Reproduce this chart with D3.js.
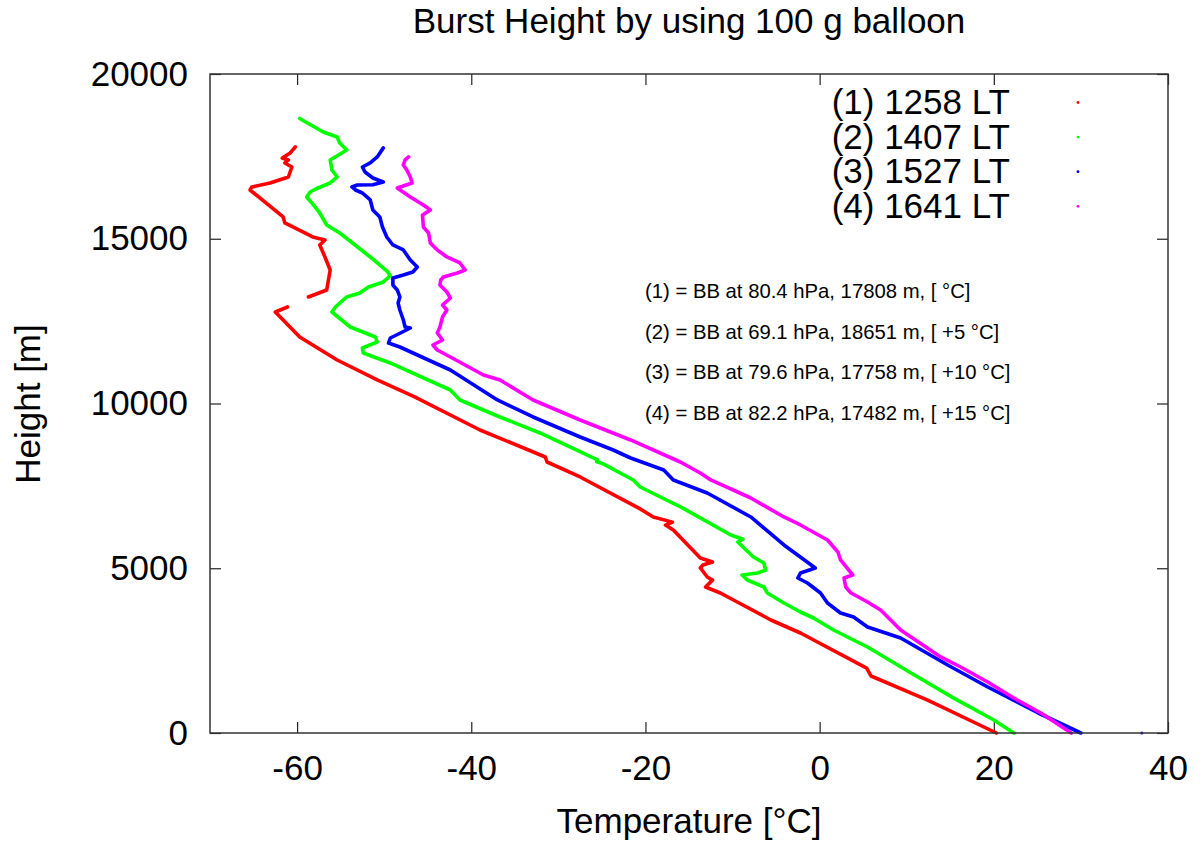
<!DOCTYPE html>
<html>
<head>
<meta charset="utf-8">
<script src="https://cdn.jsdelivr.net/npm/d3@7"></script>
<style>
  body { margin: 0; background: #fff; }
  svg { display: block; font-family: 'Liberation Sans', Arial, sans-serif; }
</style>
</head>
<body>
<div id="wrapper"></div>
<script>
// [temperature degC, height m], ground up. null = gap in the record
const sounding1 = [
  [20.3, 0], [12.4, 1000], [5.9, 1730], [5.4, 1970], [-2.2, 3035], [-5.6, 3430],
  [-11.4, 4250], [-13.1, 4430], [-12.3, 4640], [-12.9, 4735], [-13.7, 5010],
  [-13.4, 5100], [-12.3, 5190], [-13.7, 5310], [-16.8, 6160], [-17.7, 6310],
  [-16.9, 6400], [-19.1, 6555], [-20.6, 6800], [-27.5, 7770], [-31.3, 8225],
  [-31.5, 8377], [-39.0, 9196], [-46.5, 10200], [-50.8, 10714], [-55.4, 11320],
  [-59.7, 12019], [-61.6, 12535], [-62.5, 12777], [-61.1, 12929], null,
  [-58.7, 13233], [-56.6, 13445], [-56.2, 14052], [-56.8, 14447], [-57.4, 14811],
  [-56.8, 14963], [-58.2, 15054], [-61.4, 15479], [-61.6, 15661], [-65.4, 16480],
  [-65.2, 16571], [-63.1, 16693], [-61.0, 16875], [-60.6, 17178], [-61.4, 17300],
  [-61.0, 17391], [-61.7, 17452], [-60.8, 17603], [-60.2, 17790]
]
const sounding2 = [
  [22.3, 0], [20.0, 395], [15.4, 1060], [10.5, 1820], [5.5, 2610], [1.6, 3126],
  [-0.7, 3490], [-2.2, 3672], [-4.1, 3946], [-6.0, 4249], [-6.4, 4431],
  [-8.3, 4644], [-8.9, 4795], [-7.1, 4856], [-6.2, 4947], [-6.4, 5160],
  [-7.6, 5342], [-9.4, 5797], [-8.8, 5880], [-10.2, 6009], [-15.8, 6840],
  [-20.6, 7466], [-21.4, 7679], [-25.0, 8190], [-25.6, 8230], [-25.5, 8290],
  [-32.1, 9105], [-36.7, 9591], [-37.8, 9712], [-41.3, 10107], [-42.4, 10410],
  [-49.3, 11230], [-52.4, 11533], [-52.5, 11685], [-50.8, 11867], [-51.0, 12019],
  [-53.9, 12322], [-56.0, 12777], [-55.6, 12929], [-54.3, 13233], [-52.8, 13354],
  [-51.8, 13536], [-50.1, 13688], [-49.3, 13870], [-49.6, 14000], [-51.6, 14447],
  [-55.1, 15175], [-56.6, 15418], [-57.4, 15782], [-58.3, 16086], [-58.9, 16268],
  [-58.5, 16419], [-57.6, 16541], [-56.2, 16693], [-55.4, 16875], [-56.0, 17087],
  [-56.2, 17391], [-54.3, 17694], [-55.1, 17907], [-55.4, 18089], [-57.0, 18240],
  [-59.7, 18651]
]
const sounding3 = [
  [30.0, 0], [25.1, 607], [19.3, 1396], [14.7, 2064], [9.3, 2883], [5.5, 3217],
  [3.9, 3521], [2.4, 3642], [0.9, 3946], [0.1, 4249], [-1.4, 4553], [-2.5, 4704],
  [-2.2, 4856], [-0.5, 5008], [-3.0, 5493], [-4.1, 5706], [-7.9, 6556],
  [-12.9, 7284], [-16.8, 7679], [-17.9, 7982], [-21.7, 8346], [-23.7, 8589],
  [-27.5, 8984], [-32.9, 9591], [-37.0, 10107], [-42.4, 11017], [-48.2, 11715],
  [-49.5, 11836], [-49.3, 11988], [-47.9, 12170], [-47.0, 12292], [-47.6, 12322],
  [-47.8, 12535], [-48.2, 12838], [-48.4, 13050], [-48.2, 13233], [-48.5, 13445],
  [-49.0, 13597], [-49.0, 13809], [-47.8, 13900], [-46.7, 13991], [-46.2, 14143],
  [-47.0, 14356], [-47.8, 14659], [-49.0, 14811], [-49.7, 15054], [-50.2, 15357],
  [-50.5, 15661], [-51.3, 15873], [-51.6, 16177], [-52.5, 16389], [-53.3, 16480],
  [-53.7, 16571], [-53.1, 16632], [-51.3, 16640], [-50.1, 16723], [-51.3, 16845],
  [-52.2, 17026], [-52.5, 17178], [-51.6, 17300], [-50.8, 17482], [-50.1, 17758]
]
const sounding4 = [
  [28.9, 0], [25.4, 607], [22.3, 1062], [19.3, 1548], [16.2, 2003], [13.9, 2307],
  [9.3, 3126], [7.0, 3733], [5.5, 3976], [3.6, 4249], [3.0, 4431], [2.8, 4704],
  [3.8, 4795], [2.4, 5251], [2.1, 5493], [0.9, 5858], [-2.2, 6313], [-4.1, 6556],
  [-7.9, 7132], [-12.5, 7679], [-13.7, 7891], [-16.0, 8225], [-21.7, 8893],
  [-27.5, 9500], [-32.9, 10107], [-36.7, 10714], [-38.6, 10865], [-42.4, 11412],
  [-43.9, 11624], [-44.4, 11776], [-43.3, 11927], [-43.9, 12140], [-43.6, 12322],
  [-43.3, 12626], [-42.8, 12838], [-43.3, 12990], [-42.4, 13202], [-42.8, 13384],
  [-43.6, 13597], [-43.5, 13750], [-43.2, 13840], [-41.6, 13961], [-40.7, 14052],
  [-41.3, 14265], [-42.8, 14447], [-43.9, 14659], [-44.7, 14872], [-44.9, 15175],
  [-45.5, 15357], [-45.6, 15721], [-44.7, 15873], [-45.5, 16025], [-47.0, 16268],
  [-48.5, 16541], [-46.8, 16693], [-47.0, 16875], [-47.4, 17087], [-47.8, 17239],
  [-47.6, 17391], [-47.2, 17482]
]
// one stray point of sounding 3 near the ground
const strayPoints = [[37.0, 0]]

const seriesLabels = ['(1) 1258 LT', '(2) 1407 LT', '(3) 1527 LT', '(4) 1641 LT']
const seriesColors = ['#ff0000', '#00ff00', '#0000ff', '#ff00ff']
const burstNotes = [
  '(1) = BB at 80.4 hPa, 17808 m, [ °C]',
  '(2) = BB at 69.1 hPa, 18651 m, [ +5 °C]',
  '(3) = BB at 79.6 hPa, 17758 m, [ +10 °C]',
  '(4) = BB at 82.2 hPa, 17482 m, [ +15 °C]'
]
const xTicks = [-60, -40, -20, 0, 20, 40]
const yTicks = [0, 5000, 10000, 15000, 20000]

const series = [sounding1, sounding2, sounding3, sounding4]

const xAccessor = (d) => d[0]
const yAccessor = (d) => d[1]

let dimensions = {
  width: 1202,
  height: 841,
  margin: { top: 74, right: 34, bottom: 108, left: 210 },
}
dimensions.boundedWidth =
  dimensions.width - dimensions.margin.left - dimensions.margin.right
dimensions.boundedHeight =
  dimensions.height - dimensions.margin.top - dimensions.margin.bottom

const wrapper = d3
  .select('#wrapper')
  .append('svg')
  .attr('width', dimensions.width)
  .attr('height', dimensions.height)

const bounds = wrapper
  .append('g')
  .attr('transform', `translate(${dimensions.margin.left},${dimensions.margin.top})`)

const xScale = d3.scaleLinear().domain([-70, 40]).range([0, dimensions.boundedWidth])
const yScale = d3.scaleLinear().domain([0, 20000]).range([dimensions.boundedHeight, 0])

// plain integers with an ascii minus, like the original plot
const plainFormat = (d) => String(d)

// axes: ticks point inward on all four sides
const fontSize = 35
const styleAxis = (g) => {
  g.select('.domain').remove()
  g.selectAll('.tick line').attr('stroke', '#222').attr('stroke-width', 1.2)
  g.selectAll('.tick text')
    .attr('fill', '#000')
    .style('font-size', `${fontSize}px`)
    .style('font-family', "'Liberation Sans', Arial, sans-serif")
}

bounds
  .append('g')
  .attr('transform', `translate(0,${dimensions.boundedHeight})`)
  .call(
    d3.axisBottom(xScale).tickValues(xTicks).tickSize(-11).tickPadding(22)
      .tickFormat(plainFormat)
  )
  .call(styleAxis)
bounds
  .append('g')
  .call(d3.axisTop(xScale).tickValues(xTicks).tickSize(-11).tickFormat(''))
  .call(styleAxis)
bounds
  .append('g')
  .call(
    d3.axisLeft(yScale).tickValues(yTicks).tickSize(-11).tickPadding(22)
      .tickFormat(plainFormat)
  )
  .call(styleAxis)
bounds
  .append('g')
  .attr('transform', `translate(${dimensions.boundedWidth},0)`)
  .call(d3.axisRight(yScale).tickValues(yTicks).tickSize(-11).tickFormat(''))
  .call(styleAxis)

// the curves
const lineGenerator = d3
  .line()
  .defined((d) => d !== null)
  .x((d) => xScale(xAccessor(d)))
  .y((d) => yScale(yAccessor(d)))

bounds
  .append('g')
  .selectAll('path')
  .data(series)
  .join('path')
  .attr('d', lineGenerator)
  .attr('fill', 'none')
  .attr('stroke', (d, i) => seriesColors[i])
  .attr('stroke-width', 3.6)
  .attr('stroke-linejoin', 'round')
  .attr('stroke-linecap', 'round')

bounds
  .append('g')
  .selectAll('circle')
  .data(strayPoints)
  .join('circle')
  .attr('cx', (d) => xScale(xAccessor(d)))
  .attr('cy', (d) => yScale(yAccessor(d)))
  .attr('r', 1.5)
  .attr('fill', seriesColors[2])

// frame
bounds
  .append('rect')
  .attr('width', dimensions.boundedWidth)
  .attr('height', dimensions.boundedHeight)
  .attr('fill', 'none')
  .attr('stroke', '#333')
  .attr('stroke-width', 1.5)

// legend
const legend = wrapper.append('g')
legend
  .selectAll('text')
  .data(seriesLabels)
  .join('text')
  .attr('x', 1010)
  .attr('y', (d, i) => 114 + i * 34.6)
  .attr('text-anchor', 'end')
  .style('font-size', `${fontSize}px`)
  .text((d) => d)
legend
  .selectAll('circle')
  .data(seriesColors)
  .join('circle')
  .attr('cx', 1078)
  .attr('cy', (d, i) => 102.5 + i * 34.6)
  .attr('r', 1.4)
  .attr('fill', (d) => d)

// burst notes
wrapper
  .append('g')
  .selectAll('text')
  .data(burstNotes)
  .join('text')
  .attr('x', 645)
  .attr('y', (d, i) => 298 + i * 40.5)
  .style('font-size', '20.3px')
  .text((d) => d)

// title and axis labels
wrapper
  .append('text')
  .attr('x', 689)
  .attr('y', 33)
  .attr('text-anchor', 'middle')
  .style('font-size', `${fontSize}px`)
  .text('Burst Height by using 100 g balloon')

wrapper
  .append('text')
  .attr('x', 689)
  .attr('y', 833)
  .attr('text-anchor', 'middle')
  .style('font-size', `${fontSize}px`)
  .text('Temperature [°C]')

wrapper
  .append('text')
  .attr('transform', 'translate(40,404) rotate(-90)')
  .attr('text-anchor', 'middle')
  .style('font-size', `${fontSize}px`)
  .text('Height [m]')
</script>
</body>
</html>
